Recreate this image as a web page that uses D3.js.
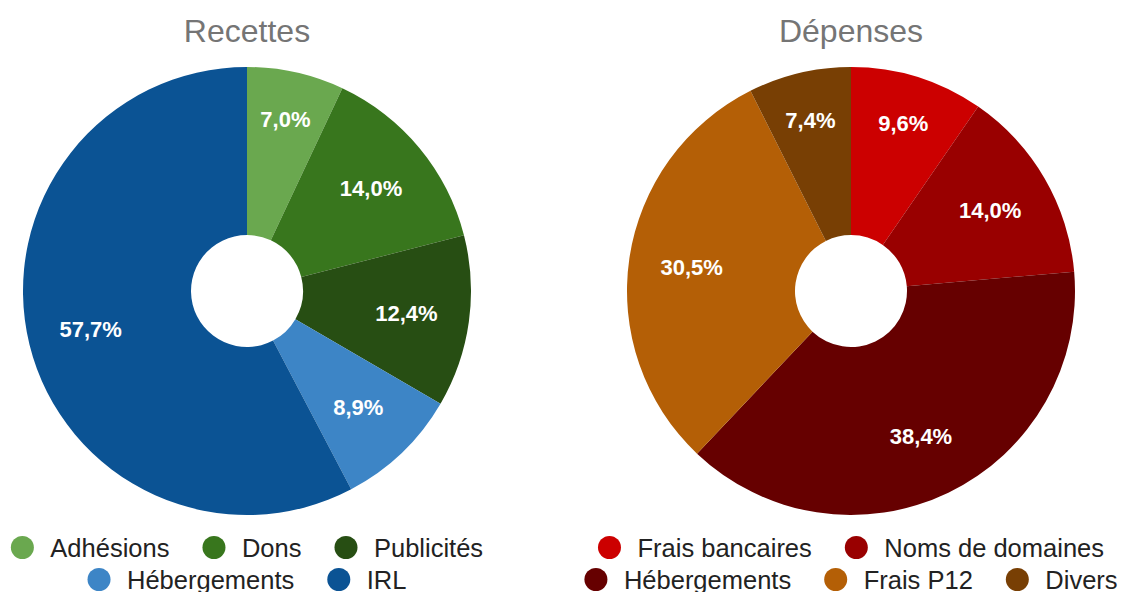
<!DOCTYPE html>
<html><head><meta charset="utf-8">
<script src="https://cdn.jsdelivr.net/npm/d3@7"></script>
<style>body{margin:0;background:#fff}svg{display:block}</style>
</head><body>
<svg id="chart" width="1121" height="592"></svg>
<script>
const recettesLabels = ["Adhésions", "Dons", "Publicités", "Hébergements", "IRL"];
const recettesValues = [7.0, 14.0, 12.4, 8.9, 57.7];
const recettesColors = ["#6aa84f", "#38761d", "#274e13", "#3d85c6", "#0b5394"];

const depensesLabels = ["Frais bancaires", "Noms de domaines", "Hébergements", "Frais P12", "Divers"];
const depensesValues = [9.6, 14.0, 38.4, 30.5, 7.4];
const depensesColors = ["#cc0000", "#990000", "#660000", "#b45f06", "#783f04"];

const titles = ["Recettes", "Dépenses"];

const svg = d3.select("#chart");
const font = "'Liberation Sans', Arial, sans-serif";
const fmt = v => d3.format(".1f")(v).replace(".", ",") + "%";

function drawPie(cx, title, labels, values, colors) {
  const outerR = 224, innerR = 56, cy = 291;
  const g = svg.append("g").attr("transform", `translate(${cx},${cy})`);
  const pie = d3.pie().sort(null).value(d => d.v);
  const data = labels.map((l, i) => ({ l, v: values[i], c: colors[i] }));
  const arcs = pie(data);
  const arc = d3.arc().innerRadius(innerR).outerRadius(outerR);
  g.selectAll("path").data(arcs).join("path")
    .attr("d", arc).attr("fill", d => d.data.c);
  g.selectAll("text.lab").data(arcs).join("text")
    .attr("class", "lab")
    .attr("transform", d => {
      const mid = (d.startAngle + d.endAngle) / 2;
      const span = d.endAngle - d.startAngle;
      const r = (span < 0.65 && Math.abs(Math.sin(mid)) < 0.5) ? 176 : 161;
      return `translate(${r * Math.sin(mid)},${-r * Math.cos(mid)})`;
    })
    .attr("text-anchor", "middle").attr("dy", "0.36em")
    .attr("font-family", font).attr("font-weight", "bold").attr("font-size", 22)
    .attr("fill", "#fff")
    .text(d => fmt(d.data.v));

  svg.append("text").attr("x", cx).attr("y", 41.5)
    .attr("text-anchor", "middle").attr("font-family", font)
    .attr("font-size", 32).attr("fill", "#757575").text(title);

  // legend
  const fs = 25.5, circR = 11.5, textGap = 16.5, itemGap = 33, maxW = 560;
  const meas = svg.append("text").attr("font-family", font).attr("font-size", fs);
  const items = data.map(d => {
    meas.text(d.l);
    const w = meas.node().getComputedTextLength();
    return { ...d, tw: w, w: circR * 2 + textGap + w };
  });
  meas.remove();
  const rows = [];
  let cur = [], curW = 0;
  items.forEach(it => {
    const add = cur.length ? itemGap + it.w : it.w;
    if (cur.length && curW + add > maxW) { rows.push({ items: cur, w: curW }); cur = [it]; curW = it.w; }
    else { cur.push(it); curW += add; }
  });
  if (cur.length) rows.push({ items: cur, w: curW });
  const rowY = [547.5, 579.5];
  rows.forEach((row, ri) => {
    let x = cx - row.w / 2;
    row.items.forEach(it => {
      svg.append("circle").attr("cx", x + circR).attr("cy", rowY[ri]).attr("r", circR).attr("fill", it.c);
      svg.append("text").attr("x", x + circR * 2 + textGap).attr("y", rowY[ri]).attr("dy", "0.36em")
        .attr("font-family", font).attr("font-size", fs).attr("fill", "#222").text(it.l);
      x += it.w + itemGap;
    });
  });
}

drawPie(247, titles[0], recettesLabels, recettesValues, recettesColors);
drawPie(851, titles[1], depensesLabels, depensesValues, depensesColors);
</script>
</body></html>
